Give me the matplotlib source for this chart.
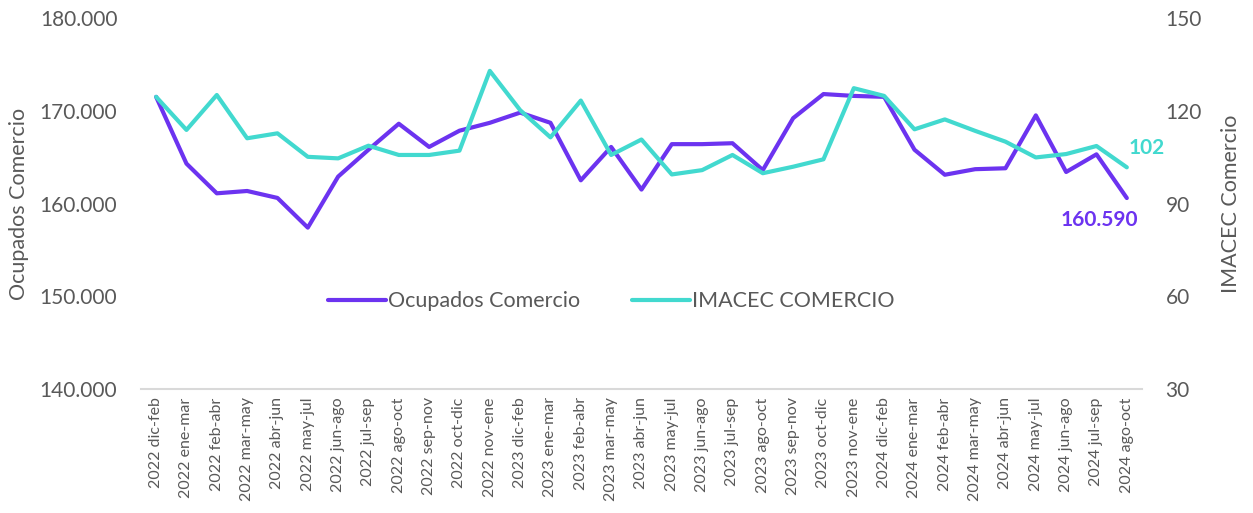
# -------------------------------------------------------------------
# Ocupados Comercio vs IMACEC Comercio, trimestres moviles
import matplotlib
matplotlib.use('Agg')
import matplotlib.pyplot as plt
from matplotlib.ticker import FuncFormatter, FixedLocator

# data
periodos = [
    '2022 dic-feb', '2022 ene-mar', '2022 feb-abr', '2022 mar-may',
    '2022 abr-jun', '2022 may-jul', '2022 jun-ago', '2022 jul-sep',
    '2022 ago-oct', '2022 sep-nov', '2022 oct-dic', '2022 nov-ene',
    '2023 dic-feb', '2023 ene-mar', '2023 feb-abr', '2023 mar-may',
    '2023 abr-jun', '2023 may-jul', '2023 jun-ago', '2023 jul-sep',
    '2023 ago-oct', '2023 sep-nov', '2023 oct-dic', '2023 nov-ene',
    '2024 dic-feb', '2024 ene-mar', '2024 feb-abr', '2024 mar-may',
    '2024 abr-jun', '2024 may-jul', '2024 jun-ago', '2024 jul-sep',
    '2024 ago-oct',
]
ocupados = [
    171500, 164300, 161100, 161350, 160600, 157400, 162900, 165800,
    168600, 166100, 167850, 168700, 169800, 168700, 162500, 166100,
    161500, 166400, 166400, 166500, 163600, 169200, 171800, 171600,
    171500, 165800, 163100, 163700, 163800, 169500, 163400, 165300,
    160590,
]
imacec = [
    124.5, 113.8, 125.1, 111.1, 112.7, 105.1, 104.6, 108.7,
    105.7, 105.7, 107.1, 132.9, 120.2, 111.4, 123.3, 105.7,
    110.7, 99.4, 100.8, 105.7, 99.8, 101.9, 104.3, 127.3,
    124.8, 114.0, 117.2, 113.5, 110.0, 104.9, 106.0, 108.6,
    101.7,
]

PURPLE = '#6C33F0'
TURQ = '#42D9CF'
GREY = '#595959'

plt.rcParams['font.family'] = ['Lato', 'DejaVu Sans']

fig, ax = plt.subplots(figsize=(12.53, 5.13), dpi=100)
fig.subplots_adjust(left=0.1125, right=0.9114, bottom=0.2417, top=0.9649)
ax2 = ax.twinx()

x = list(range(len(periodos)))
l1, = ax.plot(x, ocupados, color=PURPLE, lw=3.0, solid_joinstyle='round',
              solid_capstyle='round', label='Ocupados Comercio')
l2, = ax2.plot(x, imacec, color=TURQ, lw=3.0, solid_joinstyle='round',
               solid_capstyle='round', label='IMACEC COMERCIO')

# axes ranges and ticks
ax.set_xlim(-0.5, len(periodos) - 0.5)
ax.set_ylim(140000, 180000)
ax2.set_ylim(30, 150)
ax.yaxis.set_major_locator(FixedLocator([140000, 150000, 160000, 170000, 180000]))
ax2.yaxis.set_major_locator(FixedLocator([30, 60, 90, 120, 150]))
ax.yaxis.set_major_formatter(FuncFormatter(lambda v, p: f'{v:,.0f}'.replace(',', '.')))
ax.set_xticks(x)
ax.set_xticklabels(periodos, rotation=90, fontsize=11.5, color=GREY)

# only the bottom axis line stays
for a in (ax, ax2):
    for s in ('top', 'left', 'right', 'bottom'):
        a.spines[s].set_visible(False)
    a.tick_params(length=0)
ax.spines['bottom'].set_visible(True)
ax.spines['bottom'].set_color('#D9D9D9')
ax.spines['bottom'].set_linewidth(1.5)

ax.tick_params(axis='y', labelsize=15, labelcolor=GREY, pad=17)
ax2.tick_params(axis='y', labelsize=15, labelcolor=GREY, pad=17)
ax.tick_params(axis='x', pad=6)

ax.set_ylabel('Ocupados Comercio', fontsize=15.5, color=GREY, labelpad=8)
ax2.set_ylabel('IMACEC Comercio', fontsize=15.5, color=GREY, labelpad=14)

# last-value labels
ax.annotate(f'{ocupados[-1]:,.0f}'.replace(',', '.'), (x[-1], ocupados[-1]),
            xytext=(-20, -16), textcoords='offset points', ha='center', va='center',
            fontsize=15, fontweight='bold', color=PURPLE)
ax2.annotate(f'{imacec[-1]:.0f}', (x[-1], imacec[-1]),
             xytext=(14, 14), textcoords='offset points', ha='center', va='center',
             fontsize=15, fontweight='bold', color=TURQ)

# legend
leg = ax2.legend(handles=[l1, l2], loc='center', bbox_to_anchor=(0.47, 0.237),
                 ncol=2, frameon=False, fontsize=15.5, handlelength=2.7,
                 handletextpad=0.1, columnspacing=2.4)
for t in leg.get_texts():
    t.set_color(GREY)

plt.savefig('out.png', dpi=100)
